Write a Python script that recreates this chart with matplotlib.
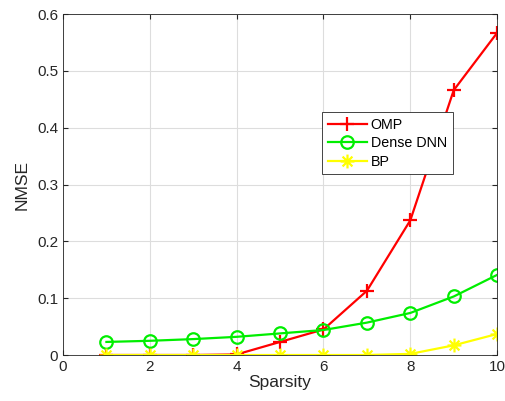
import matplotlib
matplotlib.use("Agg")
from matplotlib import pyplot as plt
from matplotlib.path import Path

plt.rcParams['font.family'] = ['Liberation Sans', 'DejaVu Sans']

sparsity = [1, 2, 3, 4, 5, 6, 7, 8, 9, 10]
omp = [0.0, 0.0, 0.0, 0.001, 0.023, 0.045, 0.113, 0.237, 0.466, 0.567]
dense_dnn = [0.023, 0.025, 0.028, 0.032, 0.038, 0.044, 0.057, 0.074, 0.103, 0.141]
bp = [0.0, 0.0, 0.0, 0.0, 0.0, 0.0, 0.0, 0.002, 0.017, 0.037]

# matlab style asterisk: plus and cross together
d = 0.7071
asterisk = Path([(-1, 0), (1, 0), (0, -1), (0, 1), (-d, -d), (d, d), (-d, d), (d, -d)],
                [Path.MOVETO, Path.LINETO] * 4)

fig = plt.figure(figsize=(5.06, 4.01), dpi=100)
ax = fig.add_axes([0.1245, 0.1147, 0.858, 0.8503])

ax.plot(sparsity, omp, '-+', color='#ff0000', lw=1.6, ms=10, mew=1.6, label='OMP')
ax.plot(sparsity, dense_dnn, '-o', color='#00ee00', lw=1.6, ms=9, mew=1.6,
        mfc='none', label='Dense DNN')
ax.plot(sparsity, bp, '-', marker=asterisk, color='#ffff00', lw=1.6, ms=10, mew=1.6,
        mfc='none', label='BP')

ax.set_xlim(0, 10)
ax.set_ylim(0, 0.6)
ax.set_xticks([0, 2, 4, 6, 8, 10])
ax.set_yticks([0, 0.1, 0.2, 0.3, 0.4, 0.5, 0.6])
ax.set_yticklabels(['0', '0.1', '0.2', '0.3', '0.4', '0.5', '0.6'])
ax.grid(True, color='#dddddd', lw=0.8)
ax.set_axisbelow(True)
ax.tick_params(direction='in', top=True, right=True, labelsize=11, colors='#262626')
for s in ax.spines.values():
    s.set_color('#262626')
    s.set_linewidth(0.6)

ax.set_xlabel('Sparsity', fontsize=12.5, color='#262626', labelpad=1)
ax.set_ylabel('NMSE', fontsize=12.5, color='#262626', labelpad=5)

leg = ax.legend(loc='upper left', bbox_to_anchor=(0.597, 0.712), fontsize=10.3,
                fancybox=False, framealpha=1, edgecolor='#262626',
                borderpad=0.4, labelspacing=0.3, handlelength=2.7,
                handletextpad=0.3, borderaxespad=0)
leg.get_frame().set_linewidth(0.6)

plt.savefig('out.png', dpi=100)
